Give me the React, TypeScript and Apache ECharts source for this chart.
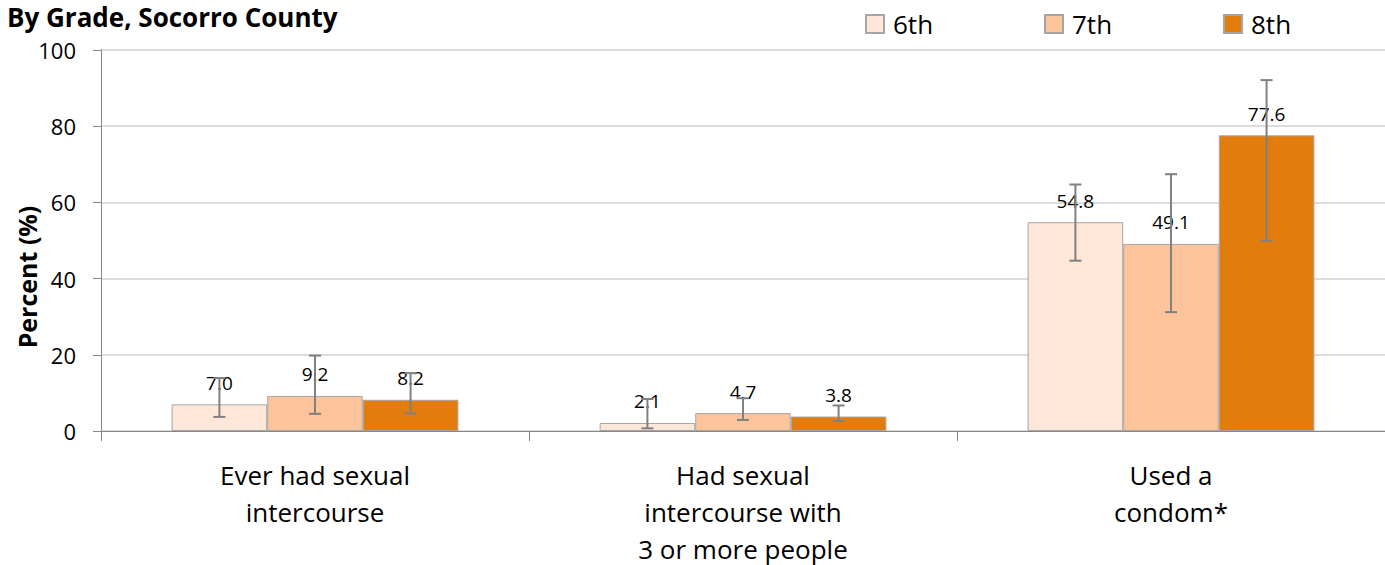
import React, { useEffect, useRef } from "react";
import * as echarts from "echarts";

const categories = [
  "Ever had sexual\nintercourse",
  "Had sexual\nintercourse with\n3 or more people",
  "Used a\ncondom*",
];
const grades = ["6th", "7th", "8th"];
const values6 = [7.0, 2.1, 54.8];
const values7 = [9.2, 4.7, 49.1];
const values8 = [8.2, 3.8, 77.6];
const lower6 = [3.7, 0.7, 44.7];
const upper6 = [13.9, 8.4, 64.7];
const lower7 = [4.5, 2.9, 31.2];
const upper7 = [19.8, 8.6, 67.4];
const lower8 = [4.6, 2.6, 49.9];
const upper8 = [15.2, 6.7, 92.1];
const colors = ["#FEE6D9", "#FDC39A", "#E27C0C"];
const yTicks = [0, 20, 40, 60, 80, 100];

const FONT = "'Open Sans', 'Noto Sans', sans-serif";
const GAP = 0.33;

export default function App() {
  const ref = useRef<HTMLDivElement>(null);
  useEffect(() => {
    if (!ref.current) return;
    const chart = echarts.init(ref.current, undefined, { renderer: "svg" });
    const vals = [values6, values7, values8];
    const lows = [lower6, lower7, lower8];
    const ups = [upper6, upper7, upper8];

    const barSeries = grades.map((g, i) => ({
      name: g,
      type: "bar",
      data: vals[i],
      barGap: "0%",
      barCategoryGap: GAP * 100 + "%",
      itemStyle: { color: colors[i], borderColor: "#A6A6A6", borderWidth: 1 },
      label: {
        show: true,
        position: "top",
        distance: 12,
        fontFamily: FONT,
        fontSize: 19,
        color: "#000",
        formatter: (p: any) => Number(p.value).toFixed(1),
      },
      z: 2,
    }));

    const errSeries = grades.map((g, i) => ({
      name: g + " err",
      type: "custom",
      z: 5,
      silent: true,
      encode: { x: 0, y: [1, 2] },
      data: categories.map((_, k) => [k, lows[i][k], ups[i][k]]),
      renderItem: (params: any, api: any) => {
        const k = api.value(0);
        const lo = api.value(1);
        const hi = api.value(2);
        const band = api.size([1, 0])[0];
        const bw = (band * (1 - GAP)) / 3;
        const cx = api.coord([k, 0])[0] + (i - 1) * bw;
        const yLo = api.coord([k, lo])[1];
        const yHi = api.coord([k, hi])[1];
        const cap = 6;
        const style = { stroke: "#808080", lineWidth: 2, fill: "none" };
        return {
          type: "group",
          children: [
            { type: "line", shape: { x1: cx, y1: yLo, x2: cx, y2: yHi }, style },
            { type: "line", shape: { x1: cx - cap, y1: yLo, x2: cx + cap, y2: yLo }, style },
            { type: "line", shape: { x1: cx - cap, y1: yHi, x2: cx + cap, y2: yHi }, style },
          ],
        };
      },
    }));

    const legendLefts = [860, 1039, 1218];
    const legends = grades.map((g, i) => ({
      data: [g],
      left: legendLefts[i],
      top: 6,
      itemWidth: 18,
      itemHeight: 18,
      icon: "rect",
      textStyle: { fontFamily: FONT, fontSize: 26, color: "#000", padding: [0, 0, 0, 4] },
      selectedMode: false,
    }));

    chart.setOption({
      animation: false,
      grid: { left: 101, right: 0, top: 50, bottom: 134, outerBoundsMode: "none", containLabel: false },
      legend: legends,
      xAxis: {
        type: "category",
        data: categories,
        axisLine: { lineStyle: { color: "#888", width: 1 } },
        axisTick: { show: true, alignWithLabel: false, length: 10, lineStyle: { color: "#888" } },
        axisLabel: {
          fontFamily: FONT,
          fontSize: 26,
          color: "#000",
          lineHeight: 37,
          margin: 25,
          interval: 0,
        },
      },
      yAxis: {
        type: "value",
        min: 0,
        max: 100,
        interval: 20,
        axisLine: { show: true, lineStyle: { color: "#888" } },
        axisTick: { show: true, length: 8, lineStyle: { color: "#888" } },
        splitLine: { lineStyle: { color: "#D0D0D0", width: 1.5 } },
        axisLabel: {
          fontFamily: FONT,
          fontSize: 22,
          color: "#000",
          margin: 25,
          formatter: (v: number) => (yTicks.includes(v) ? String(v) : ""),
        },
      },
      graphic: [
        {
          type: "text",
          left: 7,
          top: 4,
          style: {
            text: "By Grade, Socorro County",
            fontFamily: FONT,
            fontSize: 26,
            fontWeight: "bold",
            fill: "#000",
          },
        },
        {
          type: "text",
          x: 27,
          y: 277,
          rotation: Math.PI / 2,
          style: {
            text: "Percent (%)",
            fontFamily: FONT,
            fontSize: 25,
            fontWeight: "bold",
            fill: "#000",
            align: "center",
            verticalAlign: "middle",
          },
        },
      ],
      series: [...barSeries, ...errSeries],
    });
    return () => chart.dispose();
  }, []);
  return (
    <div
      ref={ref}
      style={{ position: "absolute", left: 0, top: 0, width: 1385, height: 565 }}
    />
  );
}
